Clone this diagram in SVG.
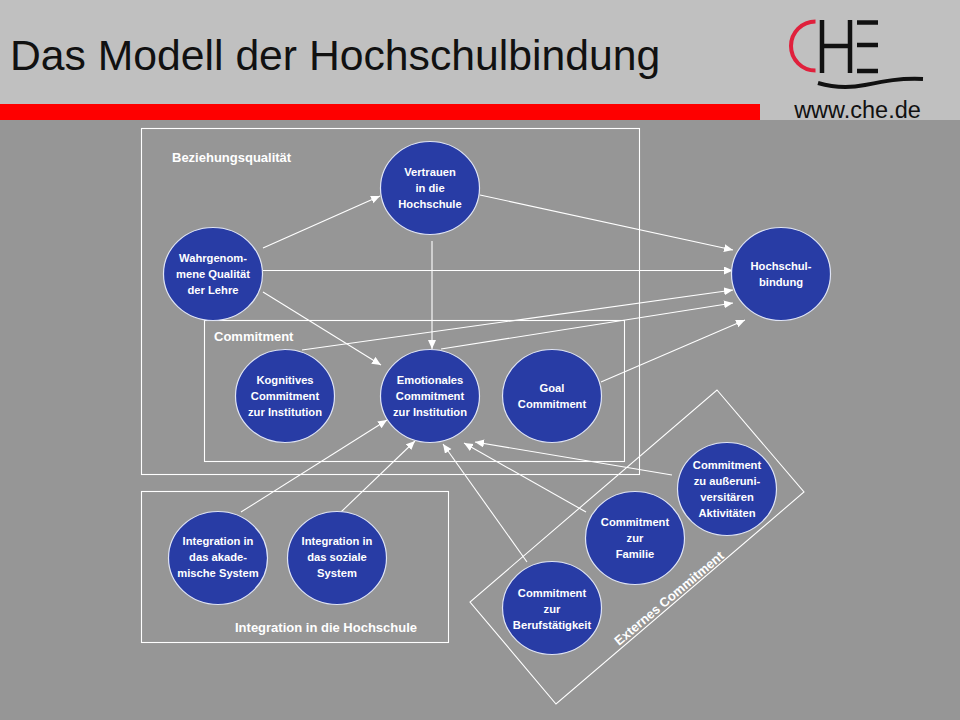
<svg xmlns="http://www.w3.org/2000/svg" width="960" height="720" viewBox="0 0 960 720">
<style>
text{font-family:"Liberation Sans",Arial,sans-serif}
.n{fill:#283ca5;stroke:#dfe4f5;stroke-width:1.2}
.t{fill:#fff;font-size:11.200px;font-weight:bold;text-anchor:middle}
.l{fill:#fff;font-size:13px;font-weight:bold}
.b{fill:none;stroke:#fff;stroke-width:1.1}
.c{fill:none;stroke:#fff;stroke-width:1.1;marker-end:url(#a)}
</style>
<defs><marker id="a" markerUnits="userSpaceOnUse" markerWidth="12" markerHeight="10" refX="9" refY="4" orient="auto"><path d="M0 0L9 4L0 8Z" fill="#fff"/></marker></defs>
<rect width="960" height="720" fill="#969696"/>
<rect width="960" height="120" fill="#c0c0c0"/>
<rect y="104" width="760" height="16" fill="#fe0000"/>
<text x="10" y="70" font-size="42.700" fill="#111">Das Modell der Hochschulbindung</text>
<g id="logo">
<path d="M815.500 21.500A24.500 24.500 0 0 0 815.500 70.500" fill="none" stroke="#e0203c" stroke-width="4"/>
<path d="M822 20V73M850 20V73M824 46H848M857 22.500H878M857 45H878M857 71H878" fill="none" stroke="#111" stroke-width="4.500"/>
<path d="M818 83C835 88 850 88 865 85C885 81 900 78 923 79" fill="none" stroke="#111" stroke-width="4"/>
<text x="857.500" y="118" font-size="23.500" fill="#111" text-anchor="middle">www.che.de</text>
</g>
<g id="frames">
<rect class="b" x="141.500" y="128.500" width="498" height="346"/>
<rect class="b" x="204.500" y="320.500" width="420" height="141"/>
<rect class="b" x="141.500" y="491.500" width="307" height="151"/>
<path class="b" d="M717 390L804 492L556 704L470 602Z"/>
</g>
<g id="connectors">
<path class="c" d="M263 248L380 196"/>
<path class="c" d="M480 195L733 250"/>
<path class="c" d="M263 270.500H733"/>
<path class="c" d="M432 241V349"/>
<path class="c" d="M263 292L381 365"/>
<path class="c" d="M302 350L733 290"/>
<path class="c" d="M441 349L733 303"/>
<path class="c" d="M601 382L745 320"/>
<path class="c" d="M241 512L387 420"/>
<path class="c" d="M341 512L415 441"/>
<path class="c" d="M527 562L443 444"/>
<path class="c" d="M586 512L464 443"/>
<path class="c" d="M672 475L475 442"/>
</g>
<g id="labels">
<text class="l" x="172" y="162">Beziehungsqualität</text>
<text class="l" x="214" y="341">Commitment</text>
<text class="l" x="235" y="632">Integration in die Hochschule</text>
<text class="l" transform="translate(619 646) rotate(-40)">Externes Commitment</text>
</g>
<g id="vertrauen"><ellipse class="n" cx="430" cy="188" rx="49.500" ry="46.500"/><text class="t" x="430" y="176">Vertrauen</text><text class="t" x="430" y="192">in die</text><text class="t" x="430" y="208">Hochschule</text></g>
<g id="wahrgenommen"><ellipse class="n" cx="213" cy="274" rx="49.500" ry="46.500"/><text class="t" x="213" y="262">Wahrgenom-</text><text class="t" x="213" y="278">mene Qualität</text><text class="t" x="213" y="294">der Lehre</text></g>
<g id="hochschulbindung"><ellipse class="n" cx="781" cy="274" rx="49.500" ry="46.500"/><text class="t" x="781" y="270">Hochschul-</text><text class="t" x="781" y="286">bindung</text></g>
<g id="kognitiv"><ellipse class="n" cx="285" cy="396" rx="49.500" ry="46.500"/><text class="t" x="285" y="384">Kognitives</text><text class="t" x="285" y="400">Commitment</text><text class="t" x="285" y="416">zur Institution</text></g>
<g id="emotional"><ellipse class="n" cx="430" cy="396" rx="49.500" ry="46.500"/><text class="t" x="430" y="384">Emotionales</text><text class="t" x="430" y="400">Commitment</text><text class="t" x="430" y="416">zur Institution</text></g>
<g id="goal"><ellipse class="n" cx="552" cy="396" rx="49.500" ry="46.500"/><text class="t" x="552" y="392">Goal</text><text class="t" x="552" y="408">Commitment</text></g>
<g id="akademisch"><ellipse class="n" cx="218" cy="558" rx="49.500" ry="46.500"/><text class="t" x="218" y="545">Integration in</text><text class="t" x="218" y="561">das akade-</text><text class="t" x="218" y="577">mische System</text></g>
<g id="sozial"><ellipse class="n" cx="337" cy="558" rx="49.500" ry="46.500"/><text class="t" x="337" y="545">Integration in</text><text class="t" x="337" y="561">das soziale</text><text class="t" x="337" y="577">System</text></g>
<g id="beruf"><ellipse class="n" cx="552" cy="608" rx="49.500" ry="46.500"/><text class="t" x="552" y="597">Commitment</text><text class="t" x="552" y="613">zur</text><text class="t" x="552" y="629">Berufstätigkeit</text></g>
<g id="familie"><ellipse class="n" cx="635" cy="538" rx="49.500" ry="46.500"/><text class="t" x="635" y="526">Commitment</text><text class="t" x="635" y="542">zur</text><text class="t" x="635" y="558">Familie</text></g>
<g id="aktivitaeten"><ellipse class="n" cx="727" cy="489" rx="49.500" ry="46.500"/><text class="t" x="727" y="469">Commitment</text><text class="t" x="727" y="485">zu außeruni-</text><text class="t" x="727" y="501">versitären</text><text class="t" x="727" y="517">Aktivitäten</text></g>
</svg>
